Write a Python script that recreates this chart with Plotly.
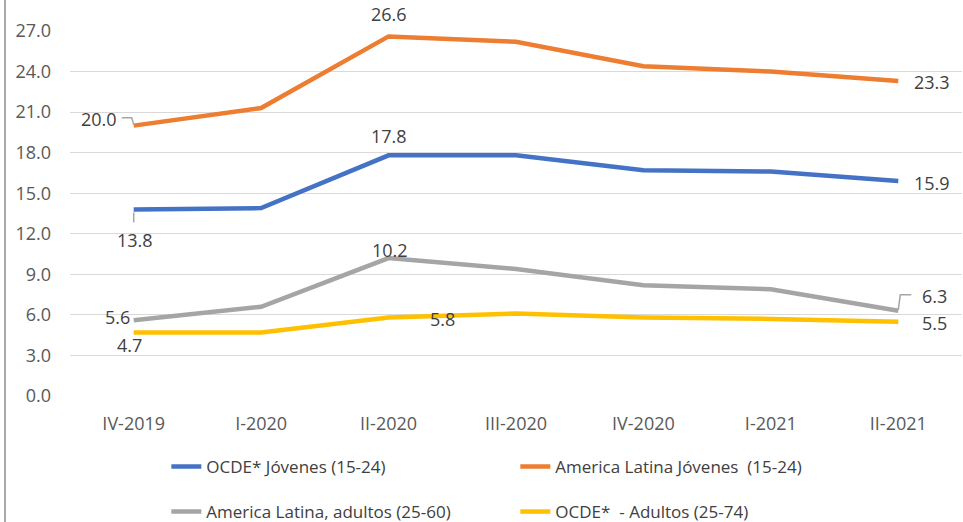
import plotly.graph_objects as go

categories = ["IV-2019", "I-2020", "II-2020", "III-2020", "IV-2020", "I-2021", "II-2021"]
ocde_jovenes = [13.8, 13.9, 17.8, 17.8, 16.7, 16.6, 15.9]
al_jovenes = [20.0, 21.3, 26.6, 26.2, 24.4, 24.0, 23.3]
al_adultos = [5.6, 6.6, 10.2, 9.4, 8.2, 7.9, 6.3]
ocde_adultos = [4.7, 4.7, 5.8, 6.1, 5.8, 5.7, 5.5]
y_ticks = [0, 3, 6, 9, 12, 15, 18, 21, 24, 27]

series = [
    ("OCDE* Jóvenes (15-24)", ocde_jovenes, "#4472C4", "legend"),
    ("America Latina Jóvenes  (15-24)", al_jovenes, "#ED7D31", "legend"),
    ("America Latina, adultos (25-60)", al_adultos, "#A5A5A5", "legend2"),
    ("OCDE*  - Adultos (25-74)", ocde_adultos, "#FFC000", "legend2"),
]

FONT = "Open Sans, Noto Sans, sans-serif"
fig = go.Figure()
for name, vals, col, lg in series:
    fig.add_trace(go.Scatter(x=categories, y=vals, name=name, mode="lines", legend=lg,
                             line=dict(color=col, width=4.5)))

# data labels: (series values, index, xshift, yshift)
labels = [
    (al_jovenes, 0, -35, 7),
    (al_jovenes, 2, 0, 22),
    (al_jovenes, 6, 34, -1),
    (ocde_jovenes, 0, 1, -31),
    (ocde_jovenes, 2, 0, 19),
    (ocde_jovenes, 6, 34, -2),
    (al_adultos, 0, -16, 3),
    (al_adultos, 2, 1, 8),
    (al_adultos, 6, 36, 15),
    (ocde_adultos, 0, -4, -13),
    (ocde_adultos, 2, 54, -1),
    (ocde_adultos, 6, 36, -1),
]
for vals, i, xs, ys in labels:
    fig.add_annotation(x=categories[i], y=vals[i], text=f"{vals[i]:.1f}", showarrow=False,
                       xshift=xs, yshift=ys, font=dict(family=FONT, size=18, color="#404040"))

# leader lines
leaders = [
    (al_jovenes, 0, "M 0 1 L -2 8 L -12 8"),
    (ocde_jovenes, 0, "M 0 -3 L 0 -13"),
    (al_adultos, 6, "M 0 1 L 2 16 L 13 16"),
]
for vals, i, path in leaders:
    fig.add_shape(type="path", xref="x", yref="y", xsizemode="pixel", ysizemode="pixel",
                  xanchor=categories[i], yanchor=vals[i], path=path,
                  line=dict(color="#A5A5A5", width=1.5))

# frame line at left
fig.add_shape(type="line", xref="paper", yref="paper", x0=-65/892, x1=-65/892, y0=-126/365, y1=31/365 + 1,
              line=dict(color="#8C8C8C", width=1.5))

legend_common = dict(orientation="h", x=0.108, xanchor="left", yanchor="middle",
                     entrywidth=304, entrywidthmode="pixels",
                     font=dict(family=FONT, size=17, color="#404040"), bgcolor="rgba(0,0,0,0)")

fig.update_layout(
    width=963, height=522,
    margin=dict(l=70, r=1, t=31, b=126, autoexpand=False),
    plot_bgcolor="white", paper_bgcolor="white",
    font=dict(family=FONT, size=18, color="#595959"),
    xaxis=dict(type="category", range=[-0.5, len(categories) - 0.5], showgrid=False,
               showline=False, zeroline=False,
               ticks="", ticklabelstandoff=15, tickfont=dict(size=18, color="#595959")),
    yaxis=dict(range=[0, 27], tickvals=y_ticks, tickformat=".1f", showgrid=True,
               gridcolor="#D9D9D9", gridwidth=1.3, zeroline=False, showline=False,
               ticks="", ticklabelstandoff=18, tickfont=dict(size=18, color="#595959")),
    legend=dict(y=-(467 - 396) / 365, **legend_common),
    legend2=dict(y=-(512 - 396) / 365, **legend_common),
    showlegend=True,
)
fig.write_html("out.html")
